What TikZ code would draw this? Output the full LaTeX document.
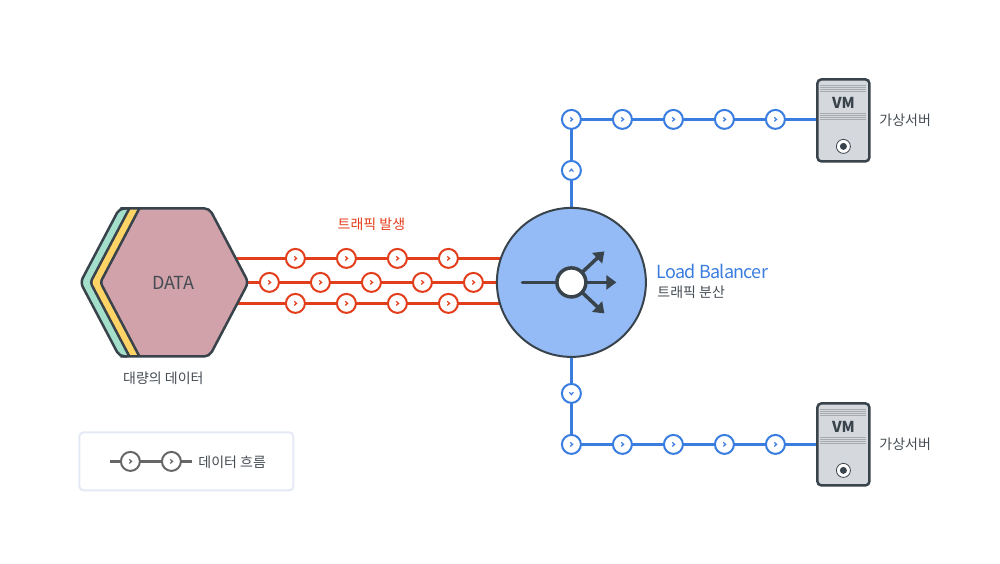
\documentclass[tikz,border=0pt]{standalone}
\usepackage{fontspec}
\setmainfont{Noto Sans CJK KR}
\usetikzlibrary{arrows.meta,backgrounds}
\definecolor{ink}{HTML}{39434B}
\definecolor{txt}{HTML}{454C53}
\definecolor{redl}{HTML}{E33E1C}
\definecolor{bluel}{HTML}{3A7DE0}
\definecolor{greyl}{HTML}{666666}
\definecolor{lbfill}{HTML}{94BBF6}
\definecolor{pinkf}{HTML}{D1A2AA}
\definecolor{yelf}{HTML}{FFD466}
\definecolor{grnf}{HTML}{A3DFCB}
\definecolor{vmf}{HTML}{D5D8DD}
\definecolor{vml}{HTML}{A6AAAF}
\definecolor{legl}{HTML}{E4E9F5}
\tikzset{
  fs/.style={font=\fontsize{#1}{#1}\selectfont},
  lbl/.style={fs=14,text=txt,inner sep=0,outer sep=0,yshift=-0.7pt},
  flowbase/.style={circle,fill=white,line width=2,minimum size=19,inner sep=0,outer sep=0},
  chev/.style n args={3}{path picture={\draw[#1,line width=1.2,shift={(path picture bounding box.center)}]
     ({-1.2*#2+2*#3},{-1.2*#3+2*#2}) -- ({1.2*#2},{1.2*#3}) -- ({-1.2*#2-2*#3},{-1.2*#3-2*#2});}},
  redn/.style={flowbase,draw=redl,chev={redl}{1}{0}},
  blun/.style={flowbase,draw=bluel,chev={bluel}{1}{0}},
  bluu/.style={flowbase,draw=bluel,chev={bluel}{0}{-1}},
  blud/.style={flowbase,draw=bluel,chev={bluel}{0}{1}},
  gryn/.style={flowbase,draw=greyl,chev={greyl}{1}{0}},
  hexe/.style={draw=ink,line width=2.5,line join=round},
  redline/.style={draw=redl,line width=3},
  bluline/.style={draw=bluel,line width=3},
  gryline/.style={draw=greyl,line width=3},
  lbar/.style={draw=ink,line width=3.5,-{Triangle[length=10,width=14]}},
  vmbox/.style={draw=ink,fill=vmf,line width=2.5,rounded corners=4,minimum width=52,minimum height=82,inner sep=0,outer sep=0},
  vmgrill/.style={draw=vml,line width=0.9},
  vmtxt/.style={font=\fontsize{15}{15}\selectfont\bfseries,text=ink,inner sep=0},
  vmdisk/.style={circle,draw=ink,fill=white,line width=0.8,minimum size=14,inner sep=0},
  vmdot/.style={circle,fill=ink,minimum size=7,inner sep=0}
}
\begin{document}
\begin{tikzpicture}[x=1pt,y=-1pt]
\useasboundingbox (-0.4,-0.4) rectangle (999.6,563.6);
% data stack: green and yellow layers, pink front, each edge drawn as one outline
\fill[grnf] (80,282) -- (119,208) -- (190,208) -- (190,356) -- (119,356) -- cycle;
\fill[yelf] (90,282) -- (129,208) -- (190,208) -- (190,356) -- (129,356) -- cycle;
\fill[pinkf] (100,282) -- (139,208) -- (209,208) -- (248,282) -- (209,356) -- (139,356) -- cycle;
\draw[hexe,rounded corners=5] (127,356) -- (119,356) -- (80,282) -- (119,208) -- (127,208);
\draw[hexe,rounded corners=3] (129,208) -- (90,282) -- (129,356);
\draw[hexe,rounded corners=3] (139,208) -- (100,282) -- (139,356);
\draw[hexe,rounded corners=5] (120,208) -- (209,208) -- (248,282) -- (209,356) -- (120,356);
\node[fs=18,text=txt,inner sep=0] (data) at (173,283) {\addfontfeature{LetterSpace=-3}DATA};
\node[lbl] (datal) at (163,377) {대량의 데이터};
\node[lbl,text=redl] (trafl) at (371,223) {트래픽 발생};
% load balancer
\node[circle,draw=ink,fill=lbfill,line width=2,minimum size=149,inner sep=0,outer sep=0] (lb) at (571,282) {};
\coordinate (lbin) at (522,282);
\coordinate (tipa) at (604,251);
\coordinate (tipb) at (616,282);
\coordinate (tipc) at (604,313);
\draw[draw=ink,line width=3.5,line cap=round] (lbin) -- (571,282);
\draw[lbar] (571,282) -- (tipa);
\draw[lbar] (571,282) -- (tipb);
\draw[lbar] (571,282) -- (tipc);
\node[circle,draw=ink,fill=white,line width=3.5,minimum size=29,inner sep=0] (hub) at (571,282) {};
\node[fs=18,text=bluel,anchor=west,inner sep=0] (lbt) at (656,271) {\addfontfeature{LetterSpace=-4}Load Balancer};
\node[lbl,anchor=west] (lbs) at (657,291) {트래픽 분산};
% red nodes
\foreach \i/\x in {1/295,2/346,3/397,4/448} {
  \node[redn] (ra\i) at (\x,258) {};
  \node[redn] (rc\i) at (\x,303) {};
}
\foreach \i/\x in {1/269,2/320,3/371,4/422,5/473} {
  \node[redn] (rb\i) at (\x,282) {};
}
% blue nodes
\foreach \i/\x in {0/571,1/622,2/673,3/724,4/775} {
  \node[blun] (t\i) at (\x,119) {};
  \node[blun] (b\i) at (\x,444) {};
}
\node[bluu] (tu) at (571,170) {};
\node[blud] (bd) at (571,393) {};
% VMs
\foreach \n/\o in {vmt/0,vmb/324} {
  \node[vmbox] (\n) at (843,120+\o) {};
  \foreach \yy in {85,87,89,91,113.5,115.5,117.5,119.5}
    \draw[vmgrill] (820,\yy+\o) -- (866,\yy+\o);
  \node[vmtxt] (\n txt) at (843,103+\o) {VM};
  \node[vmdisk] (\n disk) at (843,146+\o) {};
  \node[vmdot] (\n dot) at (843,146+\o) {};
  \node[lbl,anchor=west] (\n lab) at (879,119+\o) {가상서버};
}
% legend
\node[draw=legl,line width=2,rounded corners=4,fill=white,minimum width=214,minimum height=58,inner sep=0] (leg) at (186,461) {};
\node[gryn] (l1) at (130,461) {};
\node[gryn] (l2) at (171,461) {};
\coordinate (ls) at (110,461);
\coordinate (le) at (192,461);
\node[lbl,anchor=west] (legt) at (198,461) {데이터 흐름};
% connectors
\begin{scope}[on background layer]
  \coordinate (hra) at (237,258);
  \coordinate (hrb) at (247,282);
  \coordinate (hrc) at (237,303);
  \coordinate (lra) at (502,258);
  \coordinate (lrb) at (498,282);
  \coordinate (lrc) at (501,303);
  \draw[redline] (hra) -- (ra1) -- (ra2) -- (ra3) -- (ra4) -- (lra);
  \draw[redline] (hrb) -- (rb1) -- (rb2) -- (rb3) -- (rb4) -- (rb5) -- (lrb);
  \draw[redline] (hrc) -- (rc1) -- (rc2) -- (rc3) -- (rc4) -- (lrc);
  \draw[bluline] (lb.north) -- (tu.center) -- (t0.center) -- (t1.center) -- (t2.center) -- (t3.center) -- (t4.center) -- (t4 -| vmt.west);
  \draw[bluline] (lb.south) -- (bd.center) -- (b0.center) -- (b1.center) -- (b2.center) -- (b3.center) -- (b4.center) -- (b4 -| vmb.west);
\end{scope}
\draw[gryline] (ls) -- (l1) (l1) -- (l2) (l2) -- (le);
\end{tikzpicture}
\end{document}
